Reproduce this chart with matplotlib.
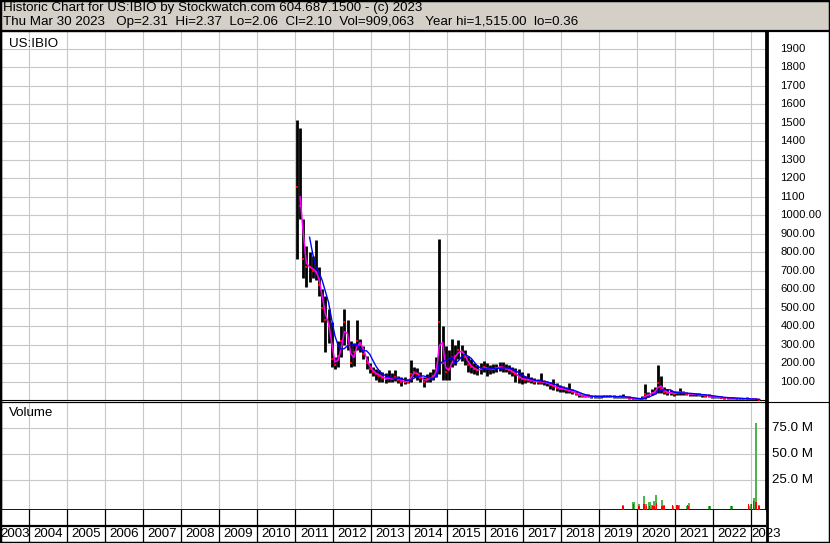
import numpy as np
import matplotlib.pyplot as plt
from matplotlib.patches import Rectangle
from matplotlib.lines import Line2D
from matplotlib.transforms import blended_transform_factory

plt.rcParams['font.family'] = ['Liberation Sans', 'DejaVu Sans']

# monthly price bars, Jan 2011 .. Mar 2023
start_year = 2011
price_hi = [1515, 1470, 980, 830, 800, 780, 866, 720, 600, 560, 490, 420,
            235, 320, 400, 494, 430, 320, 310, 430, 330, 290, 240, 200,
            180, 165, 160, 150, 145, 160, 145, 160, 130, 125, 125, 115,
            217, 180, 175, 150, 125, 140, 150, 170, 235, 871, 400, 290,
            270, 330, 300, 325, 300, 270, 240, 220, 200, 190, 200, 210,
            200, 190, 195, 195, 205, 205, 195, 190, 180, 175, 170, 150,
            130, 145, 125, 120, 115, 145, 110, 105, 100, 115, 90, 80,
            75, 70, 90, 60, 50, 40, 35, 30, 30, 28, 28, 26,
            25, 28, 28, 26, 25, 24, 26, 34, 24, 20, 14, 10,
            12, 20, 88, 45, 60, 70, 190, 130, 70, 60, 55, 50,
            50, 65, 50, 42, 40, 40, 38, 36, 34, 32, 30, 26,
            22, 20, 19, 17, 16, 14, 13, 12, 11, 10, 15, 7,
            6, 5, 4]
price_lo = [760, 980, 660, 610, 640, 660, 650, 560, 420, 260, 310, 180,
            165, 180, 230, 300, 270, 180, 185, 270, 260, 220, 170, 145,
            130, 110, 100, 100, 90, 100, 100, 105, 90, 75, 85, 90,
            100, 125, 110, 95, 70, 100, 100, 110, 125, 140, 110, 110,
            110, 180, 190, 220, 210, 190, 150, 145, 140, 135, 140, 150,
            130, 140, 145, 150, 155, 150, 150, 140, 130, 100, 90, 85,
            90, 95, 90, 85, 85, 85, 80, 75, 60, 55, 50, 45,
            45, 40, 40, 30, 25, 18, 15, 15, 14, 12, 12, 10,
            12, 14, 14, 14, 13, 12, 12, 10, 10, 6, 3, 2,
            2, 3, 5, 15, 25, 30, 40, 40, 30, 25, 25, 22,
            25, 28, 25, 25, 24, 24, 22, 20, 18, 16, 14, 12,
            10, 10, 9, 8, 7, 6, 6, 5, 5, 4, 3, 2,
            2, 1, 1]
price_cl = [1150, 1050, 760, 720, 720, 700, 690, 620, 500, 430, 400, 220,
            190, 240, 320, 420, 300, 200, 260, 320, 300, 250, 200, 170,
            150, 140, 130, 120, 115, 120, 115, 125, 110, 100, 100, 100,
            140, 150, 140, 120, 100, 115, 120, 130, 170, 420, 200, 150,
            170, 230, 240, 270, 260, 230, 190, 180, 165, 160, 170, 180,
            165, 165, 170, 175, 180, 175, 170, 160, 150, 140, 120, 115,
            110, 110, 105, 100, 100, 100, 95, 90, 80, 75, 65, 60,
            60, 55, 50, 45, 35, 25, 22, 20, 20, 18, 18, 16,
            18, 20, 20, 19, 18, 17, 17, 16, 15, 10, 6, 4,
            6, 8, 30, 28, 40, 45, 90, 60, 45, 40, 38, 35,
            38, 42, 36, 33, 32, 32, 30, 28, 26, 24, 21, 18,
            15, 14, 13, 12, 11, 10, 9, 8, 8, 7, 6, 4,
            3, 3, 2]

# volume bars (millions)
vol_dates = [2019.62, 2019.90, 2020.04, 2020.17, 2020.24, 2020.32, 2020.40,
             2020.44, 2020.50, 2020.65, 2020.70, 2020.93, 2021.04, 2021.09,
             2021.32, 2021.35, 2021.90, 2022.48, 2022.93, 2023.00, 2023.06,
             2023.12, 2023.20]
vol_up = [1.5, 4, 2, 10, 2.5, 4, 1.5, 5.5, 10.5, 5.8, 1.5, 0, 0, 1.5,
          0, 3.5, 0.7, 0.7, 0, 2.5, 8.5, 80, 1.5]
vol_down = [0, 2, 0, 2.5, 0, 0, 0, 0, 3.5, 0, 0, 1.5, 1.5, 0,
            1.5, 0, 0, 0, 2.5, 2.5, 5.5, 4, 0]

years = list(range(2004, 2024))
year_labels = [str(y) for y in range(2003, 2024)]
price_ticks = [1900, 1800, 1700, 1600, 1500, 1400, 1300, 1200, 1100, 1000,
               900, 800, 700, 600, 500, 400, 300, 200, 100]
vol_ticks = [75, 50, 25]

W, H = 830, 543
def fx(px):
    return px / W
def fy(py):
    return 1 - py / H

x0, x1 = 2003.255, 2023.387
grid_c = '#c8c8c8'
fs = 9.6

fig = plt.figure(figsize=(W / 100, H / 100), dpi=100)
fig.patch.set_facecolor('white')

# header
fig.patches.append(Rectangle((0, fy(30.5)), 1, 30.5 / H, transform=fig.transFigure,
                             facecolor='#d4d0c8', edgecolor='none', zorder=0))
fig.text(fx(3), fy(8.5), 'Historic Chart for US:IBIO by Stockwatch.com 604.687.1500 - (c) 2023',
         fontsize=fs, va='center', ha='left')
fig.text(fx(3), fy(21.5), 'Thu Mar 30 2023   Op=2.31  Hi=2.37  Lo=2.06  Cl=2.10  Vol=909,063   '
         'Year hi=1,515.00  lo=0.36', fontsize=fs, va='center', ha='left')

# price panel
ax = fig.add_axes([fx(1), fy(400), fx(765), 369 / H])
ax.set_xlim(x0, x1)
ax.set_ylim(0, 1995)
for y in years:
    ax.axvline(y, color=grid_c, lw=0.8, zorder=0)
for t in price_ticks:
    ax.axhline(t, color=grid_c, lw=0.8, zorder=0)

n = len(price_cl)
mx = start_year + (np.arange(n) + 0.5) / 12
ax.vlines(mx, price_lo, price_hi, color='black', lw=2.0, zorder=2)
ax.plot(mx, price_cl, 's', color='red', ms=2.0, mew=0, zorder=3)
cl = np.array(price_cl, dtype=float)
ma_short = np.convolve(cl, np.ones(2) / 2, mode='valid')
ma_long = np.convolve(cl, np.ones(5) / 5, mode='valid')
ax.plot(mx[1:], ma_short, color='#ff00ff', lw=1.1, zorder=4)
ax.plot(mx[4:], ma_long, color='#0000ff', lw=1.0, zorder=4)
ax.set_xticks([])
ax.set_yticks([])
for s in ['top', 'left']:
    ax.spines[s].set_linewidth(1.6)
ax.spines['right'].set_linewidth(2)
ax.spines['bottom'].set_linewidth(0.8)
ax.text(0.01, 0.966, 'US:IBIO', transform=ax.transAxes, fontsize=fs, va='center')

tr = blended_transform_factory(fig.transFigure, ax.transData)
for t in price_ticks:
    lab = str(t) if t > 1000 else '%.2f' % t
    ax.text(fx(780.5), t, lab, transform=tr, fontsize=8.1,
            va='center', ha='left', clip_on=False)

# volume panel
axv = fig.add_axes([fx(1), fy(509.5), fx(765), 107.5 / H])
axv.set_xlim(x0, x1)
axv.set_ylim(-3, 100.3)
for y in years:
    axv.axvline(y, color=grid_c, lw=0.8, zorder=0)
for t in vol_ticks:
    axv.axhline(t, color=grid_c, lw=0.8, zorder=0)
axv.bar(vol_dates, np.array(vol_up) + 3, bottom=-3, width=0.055, color='#4cb64c', zorder=2)
axv.bar(vol_dates, np.array(vol_down) + 3, bottom=-3, width=0.04, color='red', zorder=3)
axv.set_xticks([])
axv.set_yticks([])
axv.spines['left'].set_linewidth(1.6)
axv.spines['right'].set_linewidth(2)
axv.spines['top'].set_linewidth(0.8)
axv.spines['bottom'].set_linewidth(2)
axv.text(0.011, 0.9, 'Volume', transform=axv.transAxes, fontsize=fs, va='center')
trv = blended_transform_factory(fig.transFigure, axv.transData)
for t in vol_ticks:
    axv.text(fx(772), t, '%.1f M' % t, transform=trv, fontsize=fs, va='center', ha='left', clip_on=False)

# year strip
axx = fig.add_axes([fx(1), fy(542), fx(765), 32.5 / H])
axx.set_xlim(x0, x1)
axx.set_ylim(0, 1)
for y in years:
    axx.axvline(y, color='black', lw=0.9)
axx.axhline(0.485, color='black', lw=1.6)
axx.set_xticks([])
axx.set_yticks([])
for s in axx.spines.values():
    s.set_visible(False)
centers = [(x0 + 2004) / 2] + [y + 0.5 for y in years[:-1]]
for c, lab in zip(centers, year_labels[:-1]):
    axx.text(c, 0.24, lab, fontsize=fs, ha='center', va='center')
axx.text(2023.0, 0.24, year_labels[-1], fontsize=fs, ha='left', va='center', clip_on=False)

# frame lines
fig.lines.append(Line2D([0, 1], [fy(30.5), fy(30.5)], transform=fig.transFigure, color='black', lw=1.6))
fig.lines.append(Line2D([0, 1], [fy(402), fy(402)], transform=fig.transFigure, color='black', lw=0.8))
fig.lines.append(Line2D([fx(766.5), fx(766.5)], [0, fy(30.5)], transform=fig.transFigure, color='black', lw=2))
fig.patches.append(Rectangle((0, 0), 1, 1, transform=fig.transFigure, fill=False,
                             edgecolor='black', lw=2.5))

fig.savefig('out.png', dpi=100)
